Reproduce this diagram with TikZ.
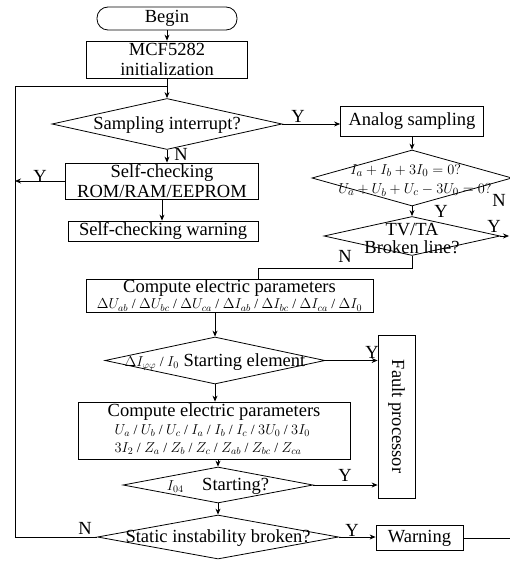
\documentclass[tikz,border=0pt]{standalone}
\usepackage{fontspec}
\setmainfont{Liberation Serif}
\usetikzlibrary{arrows.meta,positioning,shapes.geometric}
\newcommand{\flowfont}{\fontsize{18.5}{20}\selectfont}
\newcommand{\formfont}{\fontsize{14}{22}\selectfont}
\newcommand{\dtxt}[1]{\raisebox{-0.3em}[0pt][0pt]{\makebox[0pt]{#1}}}
\renewcommand{\arraystretch}{0.9}

\begin{document}
\begin{tikzpicture}[x=1pt,y=-1pt,>={Stealth[length=6pt,width=5pt]},line width=0.8pt,
  every node/.style={font=\flowfont},
  box/.style={draw,rectangle,inner sep=1pt,align=center},
  dec/.style={draw,diamond,inner sep=0pt},
  yn/.style={inner sep=0pt}]
\useasboundingbox (0,0) rectangle (510,561);

\node[box,rounded corners=11pt,minimum width=140pt,minimum height=23pt] (begin) at (167,18.5) {Begin};
\node[box,minimum width=161pt,minimum height=37pt] (init) at (167,59.5) {MCF5282\\initialization};
\node[dec,minimum width=230pt,minimum height=51pt] (sampint) at (167,124) {\dtxt{Sampling interrupt?}};
\node[box,minimum width=143pt,minimum height=30pt] (analog) at (412,121) {Analog sampling};
\node[box,minimum width=193pt,minimum height=36pt] (selfchk) at (162,181) {Self-checking\\ROM/RAM/EEPROM};
\node[box,minimum width=190pt,minimum height=20pt] (selfwarn) at (163,231) {Self-checking warning};
\node[dec,minimum width=200pt,minimum height=56pt] (sumzero) at (412,178)
  {\dtxt{\fontsize{15}{22}\selectfont\hspace{6pt}\begin{tabular}{@{}l@{}}\hspace{12pt}$I_a+I_b+3I_0=0?$\\$U_a+U_b+U_c-3U_0=0?$\end{tabular}}};
\node[dec,minimum width=176pt,minimum height=39pt] (brkline) at (412,236)
  {\dtxt{\raisebox{-4pt}{\begin{tabular}{@{}c@{}}TV/TA\\Broken line?\end{tabular}}}};
\node[box,minimum width=287pt,minimum height=33pt,inner sep=0pt] (calc1) at (229.5,295.5)
  {Compute electric parameters\\[-4pt]{\formfont $\Delta U_{ab}$ / $\Delta U_{bc}$ / $\Delta U_{ca}$ / $\Delta I_{ab}$ / $\Delta I_{bc}$ / $\Delta I_{ca}$ / $\Delta I_0$}};
\node[dec,minimum width=220pt,minimum height=47pt] (startel) at (215,360.5)
  {\dtxt{{\formfont $\Delta I_{\varphi\varphi}$ / $I_0$} Starting element}};
\node[box,minimum width=37pt,minimum height=163pt] (fault) at (396.5,416.5) {\rotatebox{-90}{Fault processor}};
\node[box,minimum width=272pt,minimum height=57pt] (calc2) at (214,430.5)
  {\begin{tabular}{@{}l@{}}Compute electric parameters\\
   {\formfont\ \ $U_a$ / $U_b$ / $U_c$ / $I_a$ / $I_b$ / $I_c$ / $3U_0$ / $3I_0$}\\
   {\formfont\ \ $3I_2$ / $Z_a$ / $Z_b$ / $Z_c$ / $Z_{ab}$ / $Z_{bc}$ / $Z_{ca}$}\end{tabular}};
\node[dec,minimum width=190pt,minimum height=36pt] (start) at (218,485) {\dtxt{{\formfont $I_{04}$}\quad Starting?}};
\node[dec,minimum width=241pt,minimum height=44pt] (stab) at (218,537) {\dtxt{Static instability broken?}};
\node[box,minimum width=87pt,minimum height=25pt] (warn) at (419.5,538) {Warning};

\coordinate (loopc) at (15,86);
\coordinate (c1in) at (258,268);
\coordinate (tvout) at (509,236);
\coordinate (wend) at (510,538);

\draw[->] (begin.south) -- (init.north);
\draw[->] (init.south) -- (sampint.north);
\draw[->] (sampint.east) -- (sampint.east -| analog.west);
\draw[->] (sampint.south) -- (sampint.south |- selfchk.north);
\draw[->] (selfchk.south) -- (selfchk.south |- selfwarn.north);
\draw[->] (selfchk.west) -- (selfchk.west -| loopc);
\draw[->] (analog.south) -- (sumzero.north);
\draw[->] (sumzero.south) -- (brkline.north);
\draw[->] (brkline.east) -- (tvout);
\draw (brkline.south) |- (c1in) -- (c1in |- calc1.north);
\draw[->] (calc1.south -| startel.north) -- (startel.north);
\draw[->] (startel.east) -- (startel.east -| fault.west);
\draw[->] (startel.south) -- (startel.south |- calc2.north);
\draw[->] (calc2.south -| start.north) -- (start.north);
\draw[->] (start.east) -- (start.east -| fault.west);
\draw[->] (start.south) -- (stab.north);
\draw[->] (stab.east) -- (stab.east -| warn.west);
\draw (warn.east) -- (wend);
\draw (stab.west) -| (loopc) -- (loopc -| init.south);

% Y / N marks
\node[yn] (ySamp) at (298,116) {Y};
\node[yn] (nSamp) at (181,154) {N};
\node[yn] (ySelf) at (40,176) {Y};
\node[yn] (ySum) at (441,211) {Y};
\node[yn] (nSum) at (499,200) {N};
\node[yn] (yBrk) at (494,226) {Y};
\node[yn] (nBrk) at (345,256) {N};
\node[yn] (yStartel) at (372,352) {Y};
\node[yn] (yStart) at (345,475) {Y};
\node[yn] (yStab) at (352,530) {Y};
\node[yn] (nStab) at (85,528) {N};
\end{tikzpicture}
\end{document}
